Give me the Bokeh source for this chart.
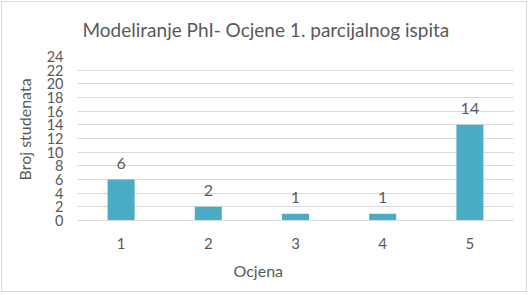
from bokeh.plotting import figure
from bokeh.models import FactorRange, Range1d, FixedTicker, Title, ColumnDataSource
from bokeh.embed import file_html
from bokeh.resources import INLINE
from bokeh.core.properties import value

grades = ["1", "2", "3", "4", "5"]
counts = [6, 2, 1, 1, 14]
y_ticks = [0, 2, 4, 6, 8, 10, 12, 14, 16, 18, 20, 22, 24]
title_text = "Modeliranje PhI- Ocjene 1. parcijalnog ispita"
x_title = "Ocjena"
y_title = "Broj studenata"

FONT = "Lato"
TXT = "#595959"
GRID = "#D9D9D9"
BAR = "#4BACC6"

src = ColumnDataSource(dict(x=grades, y=counts, lbl=[str(c) for c in counts]))

p = figure(width=526, height=291,
           x_range=FactorRange(*grades, range_padding=0),
           y_range=Range1d(0, 24),
           output_backend="svg", toolbar_location=None,
           min_border_left=75, min_border_right=15,
           min_border_top=54, min_border_bottom=73,
           styles={"border": "1px solid #D9D9D9", "margin": "1px"})
p.outline_line_color = None
p.background_fill_color = "white"
p.border_fill_color = "white"

p.vbar(x="x", top="y", width=0.31, source=src, fill_color=BAR, line_color=None)
p.text(x="x", y="y", text="lbl", source=src, text_align="center",
       text_baseline="middle", y_offset=-16, text_color=TXT,
       text_font=value(FONT), text_font_size="16px")

p.xgrid.grid_line_color = None
p.ygrid.grid_line_color = GRID
p.ygrid.ticker = FixedTicker(ticks=y_ticks)

p.yaxis.ticker = FixedTicker(ticks=y_ticks)
p.yaxis.axis_line_color = None
p.yaxis.major_tick_line_color = None
p.yaxis.minor_tick_line_color = None
p.yaxis.major_label_standoff = 8
p.yaxis.major_label_text_font = FONT
p.yaxis.major_label_text_font_size = "14.5px"
p.yaxis.major_label_text_color = TXT

p.xaxis.axis_line_color = GRID
p.xaxis.major_tick_line_color = None
p.xaxis.minor_tick_line_color = None
p.xaxis.major_label_standoff = 11
p.xaxis.major_label_text_font = FONT
p.xaxis.major_label_text_font_size = "15px"
p.xaxis.major_label_text_color = TXT

p.title.text = title_text
p.title.align = "left"
p.title.offset = 5
p.title.standoff = 28
p.title.vertical_align = "top"
p.title.text_font = FONT
p.title.text_font_size = "19px"
p.title.text_font_style = "normal"
p.title.text_color = TXT

p.add_layout(Title(text=x_title, align="left", offset=156, standoff=15,
                   text_font=FONT, text_font_size="16px", text_font_style="normal",
                   text_color=TXT), "below")
p.add_layout(Title(text=y_title, align="left", offset=40, standoff=20,
                   text_font=FONT, text_font_size="16px", text_font_style="normal",
                   text_color=TXT), "left")

open("out.html", "w").write(file_html(p, INLINE))
